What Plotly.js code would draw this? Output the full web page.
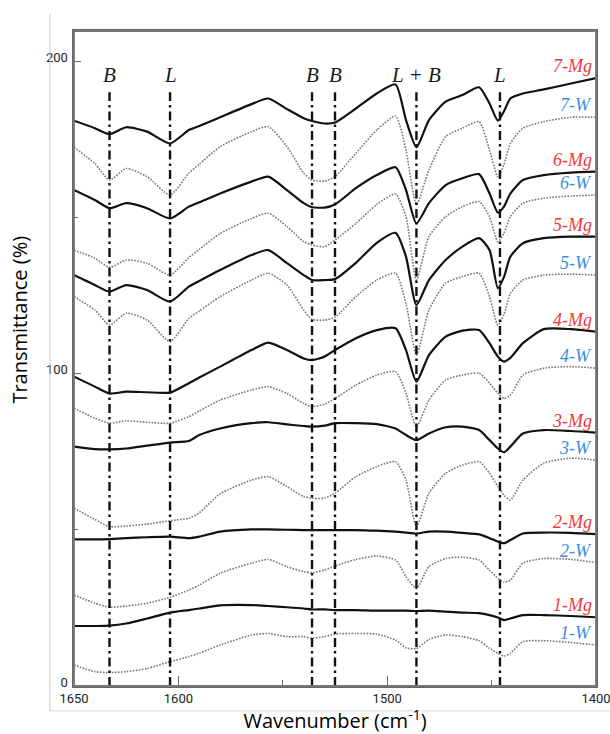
<!DOCTYPE html>
<html>
<head>
<meta charset="utf-8">
<script src="https://cdn.plot.ly/plotly-3.0.1.min.js"></script>
<style>
  html, body { margin: 0; padding: 0; background: #fff; }
  #chart { width: 610px; height: 734px; }
</style>
</head>
<body>
<div id="chart"></div>
<script>
// Wavenumber grid (cm-1)
const wavenumbers = [1650,1640,1633,1625,1615,1604,1595,1590,1580,1565,1557,1548,1540,1536,1530,1525,1515,1505,1496,1491,1486,1480,1472,1464,1456,1451,1447,1444,1441,1435,1425,1412,1400];

// Series (Transmittance, offset stacked as in the figure)
const mg7 = [180.9,178.5,176.6,178.8,177.4,173.6,177.9,179.2,182,186.2,188,184.6,181.7,180.8,180,180.3,184.8,189.6,192.5,181.1,172.4,181.1,187,189.1,191.6,186.4,180.9,184,188,189.6,190.9,192.8,194.5];
const w7  = [172.4,167.2,161.9,165.6,163,157.1,164.1,167,172.6,177.4,179,172.6,164.1,161.9,161.6,163,170.5,177.9,182.4,171.5,154.1,165.1,175.8,178.5,180.6,171.5,163,167,173.6,178.5,180.6,182,182];
const mg6 = [158.7,155.5,152.9,154.5,152.9,149.6,153.4,154.8,157.6,161.4,163,158.7,154.5,153.2,153.1,154.1,159.3,163.5,166,158.7,148,154.5,160.3,162.5,163.8,157.6,151.5,153.5,157.6,161.9,163.5,164.3,164.6];
const w6  = [139.5,136.9,134,136.3,135.3,131.5,137.1,139.7,144.8,149.6,151.3,147,142.2,141.1,140.6,142.7,148,154.1,157.4,150.2,129.9,143.8,150.2,153.4,155,150.2,142.2,145,150.2,154.5,156.1,156.8,157.1];
const mg5 = [131.5,128.3,126.2,128.3,126.7,123,127.8,129.6,133.1,137.9,139.5,135.3,131.5,129.9,129.9,130.2,135.4,141.8,145,137.4,121.9,129.9,136.3,140.6,143.3,139.5,127.3,131,137.4,141.7,143.3,143.8,143.8];
const w5  = [124.6,120.3,115.5,119.3,117.1,110.2,117.6,120,124.6,129.9,132.1,128.3,120.3,117.3,117.1,118,124.6,129.9,132.1,122.4,105.9,120.3,128.9,131,132.1,124.6,115.5,119,125.6,129.9,131.5,131.8,131.5];
const mg4 = [99,95.8,93.6,94.2,94,93.9,96.9,98.7,102.2,107.5,109.9,107.5,104.8,104.3,105.4,107.5,111.3,113.9,114.5,107.5,97.4,105.9,111.8,113.7,113.9,109.7,105.4,103.8,105,109.7,114.2,114.2,113.4];
const w4  = [88.9,85.7,84.1,84.9,84.4,84.1,86.2,88,91.5,94.7,95.8,93.6,90.4,89.4,90.2,92,96.3,99.5,100.6,93.6,83,91.5,97.9,99.5,100.1,96.9,93.6,92,93.1,99.5,101.7,102.2,101.7];
const mg3 = [76.6,75.8,75.7,76,76.9,77.9,78.4,80.3,82.4,84.1,84.4,83.7,83.2,83,83.3,84.1,84.1,83.8,82.4,80.3,78.7,80.8,82.8,83,81.9,78.7,76,74.8,76.6,80.8,81.9,81.6,81.1];
const w3  = [56.9,53.3,51,51.2,51.8,52.9,53.7,55.4,61.5,65.9,67,63.8,60.6,60.1,60.1,61.7,67,70.2,71.8,65.9,51,61.7,68.1,70.7,71.8,68.1,63.8,61,59.5,65.9,71.3,72.9,72.3];
const mg2 = [46.9,46.9,47,47.3,47.6,47.8,47.3,47.8,49.4,50.1,50.1,50,49.9,49.9,49.9,49.9,49.9,49.7,49.4,49.1,48.8,49.4,49.4,49,48.5,47.3,46.2,45.7,46.7,48.8,49.1,49,48.6];
const w2  = [29.1,26.5,25.2,25.6,26.5,28.4,30.7,32.3,36.1,39.3,40.5,38.2,36.6,36.3,37.1,38.4,40.5,41.6,40.3,35,31.2,38.2,40.8,41.2,40.3,37.1,34.5,33.2,33.9,39.3,40.8,40.5,39.5];
const mg1 = [19.2,19.2,19.3,20,21.6,23.5,24.3,24.8,25.8,25.9,25.6,25.2,24.8,24.5,24.5,24.3,24.3,24.1,24.1,24.1,24,24.1,23.8,23.5,23.3,22.7,21.9,21.1,21.6,22.7,22.7,22.4,22];
const w1  = [6.7,4.6,4.3,4.6,5.6,7.8,9.4,10.5,13.1,16.3,16.8,15.8,15.8,15.3,15.8,16.6,16.8,16.6,14.7,12.2,12.0,14.9,16.3,15.8,14.5,12.1,10.5,9.6,10.5,14.2,14.5,13.9,13.1];

const seriesNames = ["7-Mg","7-W","6-Mg","6-W","5-Mg","5-W","4-Mg","4-W","3-Mg","3-W","2-Mg","2-W","1-Mg","1-W"];
const seriesData  = [mg7,w7,mg6,w6,mg5,w5,mg4,w4,mg3,w3,mg2,w2,mg1,w1];

// Band assignment markers
const bandPositions = [1633, 1604, 1536, 1525, 1486, 1446];
const bandLabels    = ["B", "L", "B", "B", "L + B", "L"];
const bandTop = 190;

// Axis ticks
const xTickVals = [1650, 1600, 1500, 1400];
const xMinorVals = [1550, 1450];
const yTickVals = [0, 100, 200];
const yMinorVals = [50, 150];

const traces = [];
seriesData.forEach((ys, i) => {
  const isMg = seriesNames[i].endsWith("Mg");
  traces.push({
    type: "scatter", mode: "lines", name: seriesNames[i],
    x: wavenumbers, y: ys,
    line: isMg
      ? { color: "#111111", width: 2.2, shape: "spline", smoothing: 0.6 }
      : { color: "#777777", width: 1.6, dash: "1.6px,1.4px", shape: "spline", smoothing: 0.6 },
    hoverinfo: "skip", showlegend: false
  });
});
bandPositions.forEach((p) => {
  traces.push({
    type: "scatter", mode: "lines",
    x: [p, p], y: [0, bandTop],
    line: { color: "#111111", width: 2.4, dash: "9px,4px,2.5px,4px" },
    hoverinfo: "skip", showlegend: false
  });
});

const annotations = [];
seriesData.forEach((ys, i) => {
  const isMg = seriesNames[i].endsWith("Mg");
  annotations.push({
    x: 1400, y: ys[ys.length - 1], xref: "x", yref: "y",
    text: seriesNames[i], showarrow: false,
    xanchor: "right", yanchor: "bottom", xshift: -2, yshift: 0,
    font: { family: "Liberation Serif, Times New Roman, serif", size: 18,
            color: isMg ? "#f0383c" : "#3a8ede", style: "italic" }
  });
});
bandPositions.forEach((p, i) => {
  annotations.push({
    x: p, y: bandTop, xref: "x", yref: "y",
    text: bandLabels[i], showarrow: false,
    xanchor: "center", yanchor: "bottom", yshift: 3,
    font: { family: "Liberation Serif, Times New Roman, serif", size: 21,
            color: "#1a1a1a", style: "italic" }
  });
});
annotations.push({
  x: -0.104, y: 0.559, xref: "paper", yref: "paper",
  text: "Transmittance (%)", showarrow: false, textangle: -90,
  xanchor: "center", yanchor: "middle",
  font: { family: "Open Sans, Noto Sans, sans-serif", size: 20, color: "#000" }
});

const tickFont = { family: "Roboto, Liberation Sans, sans-serif", size: 13, color: "#222" };

const layout = {
  width: 610, height: 734,
  margin: { l: 74, r: 14, t: 31, b: 48 },
  paper_bgcolor: "#ffffff", plot_bgcolor: "#ffffff",
  showlegend: false,
  xaxis: {
    range: [1650, 1400], showgrid: false, zeroline: false,
    showline: true, mirror: true, linecolor: "#666666", linewidth: 1.6,
    tickmode: "array", tickvals: xTickVals, ticktext: xTickVals.map(String),
    ticks: "inside", ticklen: 10, tickwidth: 1, tickcolor: "#666666",
    minor: { tickmode: "array", tickvals: xMinorVals, ticks: "inside", ticklen: 6, tickwidth: 1, tickcolor: "#666666", showgrid: false },
    tickfont: tickFont, ticklabeloverflow: "allow", ticklabelstandoff: 0,
    title: { text: "Wavenumber (cm<sup>-1</sup>)", standoff: 13,
             font: { family: "Open Sans, Noto Sans, sans-serif", size: 20, color: "#000" } }
  },
  yaxis: {
    range: [0, 209.6], showgrid: false, zeroline: false,
    showline: true, mirror: true, linecolor: "#666666", linewidth: 1.6,
    tickmode: "array", tickvals: yTickVals, ticktext: yTickVals.map(String),
    ticks: "inside", ticklen: 7, tickwidth: 1, tickcolor: "#666666",
    minor: { tickmode: "array", tickvals: yMinorVals, ticks: "inside", ticklen: 4, tickwidth: 1, tickcolor: "#666666", showgrid: false },
    tickfont: tickFont, ticklabelstandoff: 2, ticklabelshift: -4
  },
  shapes: [
    { type: "rect", xref: "paper", yref: "paper", x0: 0, x1: 1, y0: 0, y1: 1,
      line: { color: "#777777", width: 1.8 }, fillcolor: "rgba(0,0,0,0)", layer: "above" },
    { type: "line", xref: "paper", yref: "paper", x0: -0.046, x1: -0.046, y0: -0.038, y1: 1.026,
      line: { color: "#c8c8c8", width: 1 } },
    { type: "line", xref: "paper", yref: "paper", x0: -0.046, x1: 1.03, y0: -0.038, y1: -0.038,
      line: { color: "#d8d8d8", width: 1 } }
  ],
  annotations: annotations
};

Plotly.newPlot("chart", traces, layout, { staticPlot: true, displayModeBar: false });
</script>
</body>
</html>
